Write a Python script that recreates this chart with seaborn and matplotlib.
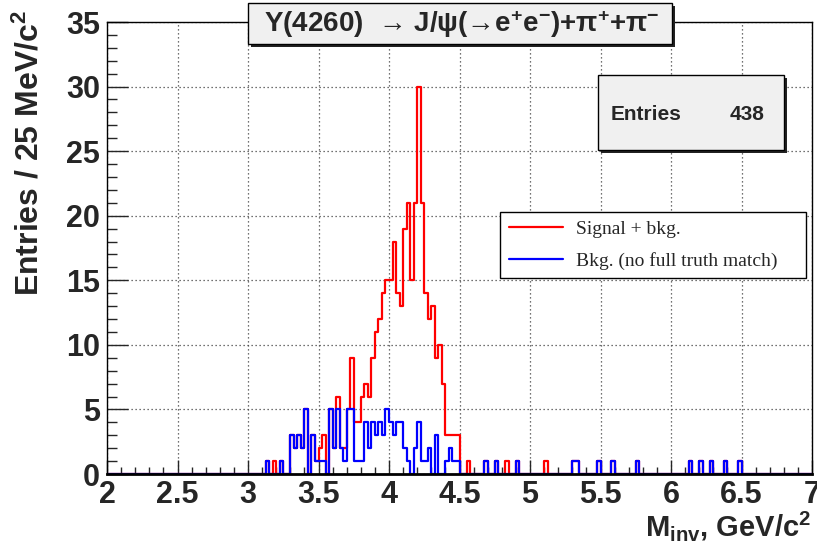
import numpy as np
import matplotlib
matplotlib.use("Agg")
import matplotlib.pyplot as plt
import seaborn as sns
from matplotlib.patches import Rectangle
from matplotlib.lines import Line2D
from matplotlib.ticker import MultipleLocator, FuncFormatter
from matplotlib.font_manager import FontProperties

# ---------------- data ----------------
core_start = 3.0          # GeV, first bin of the populated core region
bin_width = 0.025         # 25 MeV bins
# counts per 25 MeV bin, from 3.000 GeV to 4.500 GeV
red_core = [0, 0, 0, 0, 0, 1, 0, 1, 0, 1,
            0, 0, 3, 2, 3, 2, 5, 0, 3, 1,
            2, 3, 0, 5, 2, 6, 2, 2, 5, 9,
            4, 4, 6, 7, 6, 9, 11, 12, 14, 15,
            15, 18, 14, 13, 19, 21, 15, 21, 30, 21,
            14, 12, 13, 9, 10, 7, 3, 3, 3, 3]
blue_core = [0, 0, 0, 0, 0, 1, 0, 0, 0, 1,
             0, 0, 3, 2, 3, 2, 5, 0, 3, 1,
             1, 1, 0, 5, 2, 5, 2, 1, 5, 5,
             1, 1, 1, 4, 2, 4, 3, 4, 3, 5,
             4, 3, 4, 4, 2, 1, 0, 2, 4, 1,
             1, 2, 0, 3, 0, 0, 1, 2, 1, 1]
# isolated single entries in the tail (GeV)
red_only_tail = [4.5625, 4.8375, 5.1125]
bkg_tail = [4.6875, 4.7625, 4.9125, 5.3125, 5.3375, 5.4875, 5.5875,
            5.7625, 6.1375, 6.2125, 6.2875, 6.3875, 6.4875]
x_range = (2.0, 7.0)
y_range = (0, 35)
n_entries = 438
title_text = "Y(4260)  → J/ψ(→e$^{+}$e$^{-}$)+π$^{+}$+π$^{-}$"
legend_labels = ["Signal + bkg.", "Bkg. (no full truth match)"]

# ---------------- build weighted samples ----------------
centers = core_start + bin_width * (np.arange(len(red_core)) + 0.5)
x_red = np.concatenate([centers, red_only_tail, bkg_tail])
w_red = np.concatenate([red_core, np.ones(len(red_only_tail)), np.ones(len(bkg_tail))])
x_blue = np.concatenate([centers, bkg_tail])
w_blue = np.concatenate([blue_core, np.ones(len(bkg_tail))])

# ---------------- style ----------------
sns.set_style("white")
plt.rcParams['font.family'] = ['Liberation Sans', 'DejaVu Sans']
plt.rcParams['mathtext.fontset'] = 'custom'
plt.rcParams['mathtext.rm'] = 'Liberation Sans:bold'
plt.rcParams['mathtext.bf'] = 'Liberation Sans:bold'
plt.rcParams['mathtext.it'] = 'Liberation Sans:bold'
plt.rcParams['mathtext.default'] = 'bf'

W, H = 817, 546
fig = plt.figure(figsize=(W / 100, H / 100), dpi=100)
fig.patch.set_facecolor("white")

def fx(px):
    return px / W

def fy(py):
    return 1 - py / H

ax = fig.add_axes([fx(107), fy(474), fx(812) - fx(107), fy(22) - fy(474)])

sns.histplot(x=x_red, weights=w_red, binwidth=bin_width, binrange=x_range,
             element="step", fill=False, color="#ff0000", linewidth=1.6, ax=ax)
sns.histplot(x=x_blue, weights=w_blue, binwidth=bin_width, binrange=x_range,
             element="step", fill=False, color="#0000ff", linewidth=1.6, ax=ax)

ax.set_xlim(*x_range)
ax.set_ylim(*y_range)
ax.set_xlabel("")
ax.set_ylabel("")

ax.xaxis.set_major_locator(MultipleLocator(0.5))
ax.xaxis.set_minor_locator(MultipleLocator(0.1))
ax.yaxis.set_major_locator(MultipleLocator(5))
ax.yaxis.set_minor_locator(MultipleLocator(1))
ax.xaxis.set_major_formatter(FuncFormatter(lambda v, p: f"{v:g}"))
ax.tick_params(axis='x', which='major', direction='in', length=9.8, width=1,
               labelsize=22, pad=4, bottom=True, top=False)
ax.tick_params(axis='x', which='minor', direction='in', length=4.9, width=1,
               bottom=True, top=False)
ax.tick_params(axis='y', which='major', direction='in', length=15, width=1,
               labelsize=22, pad=5, left=True, right=False)
ax.tick_params(axis='y', which='minor', direction='in', length=7.5, width=1,
               left=True, right=False)
for lab in ax.get_xticklabels() + ax.get_yticklabels():
    lab.set_fontweight('bold')

ax.grid(True, which='major', linestyle=(0, (1, 2.2)), color='#444444', linewidth=0.9)
ax.set_axisbelow(True)
for s in ax.spines.values():
    s.set_color('black')
    s.set_linewidth(1.0)
ax.spines['bottom'].set_linewidth(2.0)

# legend
handles = [Line2D([], [], color="#ff0000", linewidth=1.6),
           Line2D([], [], color="#0000ff", linewidth=1.6)]
leg = ax.legend(handles, legend_labels, loc='center left',
                bbox_to_anchor=(fx(500), fy(279), fx(806) - fx(500), fy(211) - fy(279)),
                bbox_transform=fig.transFigure, mode='expand',
                prop=FontProperties(family='Liberation Serif', size=14),
                handlelength=2.8, handletextpad=0.65, labelspacing=0.7,
                borderpad=0.45, borderaxespad=0, frameon=True, fancybox=False)
leg.get_frame().set_edgecolor('black')
leg.get_frame().set_linewidth(1.0)
leg.get_frame().set_alpha(1)

# boxes with shadows (figure pixel coords)
def shadow_box(x0, y0, x1, y1, face):
    sh = Rectangle((fx(x0 + 3), fy(y1 + 3)), fx(x1) - fx(x0), fy(y0) - fy(y1),
                   transform=fig.transFigure, facecolor='#222222', edgecolor='none', zorder=5)
    bx = Rectangle((fx(x0), fy(y1)), fx(x1) - fx(x0), fy(y0) - fy(y1),
                   transform=fig.transFigure, facecolor=face, edgecolor='black',
                   linewidth=1.0, zorder=6)
    fig.patches.extend([sh, bx])

shadow_box(248, 3, 672, 44, '#f0f0f0')
fig.text(fx(462), fy(24), title_text, ha='center', va='center', fontsize=20,
         fontweight='bold', zorder=7)

shadow_box(598, 75, 784, 150, '#f0f0f0')
fig.text(fx(611), fy(114), "Entries", ha='left', va='center', fontsize=15,
         fontweight='bold', zorder=7)
fig.text(fx(765), fy(114), f"{n_entries}", ha='right', va='center', fontsize=15,
         fontweight='bold', zorder=7)

# axis titles
fig.text(fx(30), fy(10), r"Entries / 25 MeV/c$^{2}$", rotation=90, ha='center',
         va='top', fontsize=23, fontweight='bold')
fig.text(fx(811), fy(536), r"M$_{inv}$, GeV/c$^{2}$", ha='right', va='baseline',
         fontsize=21, fontweight='bold')

fig.savefig("out.png", dpi=100, facecolor='white')
